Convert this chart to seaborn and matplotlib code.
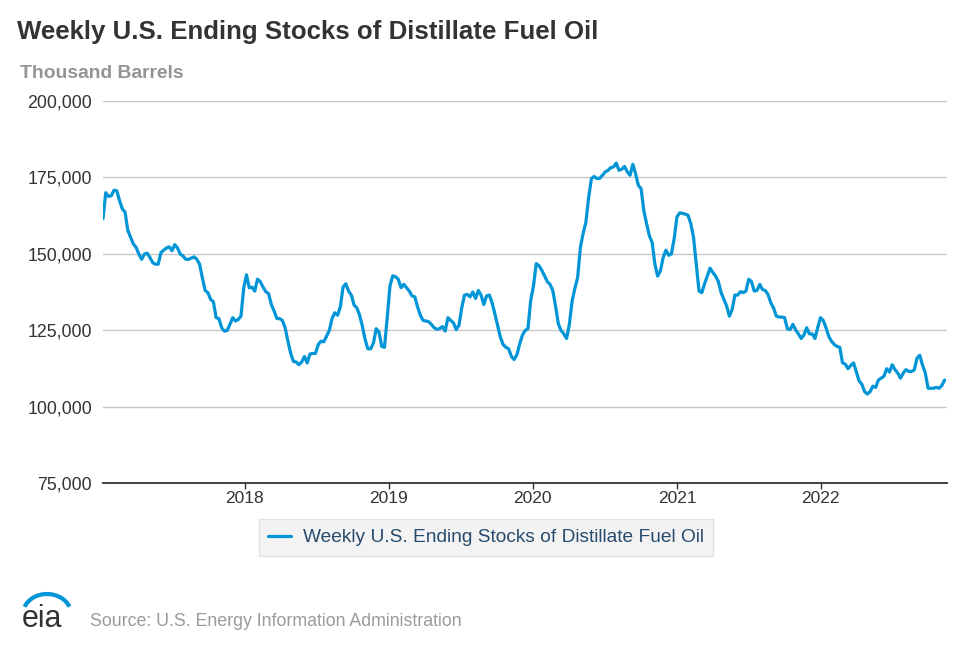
import pandas as pd
import seaborn as sns
import matplotlib.pyplot as plt
from matplotlib.ticker import FuncFormatter
from matplotlib.patches import Arc

# weekly ending stocks, million barrels, one list per year
stocks_2017 = [161.5, 170.0, 168.8, 169.0, 170.8, 170.6, 167.4, 164.7, 163.6, 157.6,
               155.4, 153.2, 152.1, 149.9, 148.2, 149.9, 150.2, 148.8, 147.1, 146.6,
               146.6, 150.4, 151.2, 151.9, 152.3, 151.0, 153.0, 151.9, 149.9, 149.3,
               148.2, 148.2, 148.6, 149.0, 148.2, 146.6, 142.2, 138.0, 137.3, 135.1,
               134.3, 129.1, 128.8, 125.8, 124.7, 124.9, 126.9, 129.1, 128.0, 128.5,
               129.6, 138.9]
stocks_2018 = [143.1, 138.9, 139.1, 137.8, 141.7, 140.9, 139.1, 137.6, 137.0, 133.4,
               131.3, 128.8, 128.8, 128.2, 125.8, 121.4, 117.5, 114.8, 114.6, 113.7,
               114.6, 116.4, 114.3, 117.2, 117.4, 117.4, 120.3, 121.4, 121.2, 123.0,
               124.9, 128.8, 130.7, 129.9, 132.6, 139.1, 140.2, 137.8, 136.5, 133.2,
               132.3, 129.9, 126.3, 121.9, 118.9, 118.9, 120.8, 125.5, 124.4, 119.7,
               119.4, 129.1]
stocks_2019 = [139.5, 142.8, 142.5, 141.7, 138.9, 140.0, 138.9, 137.8, 136.2, 135.9,
               132.6, 129.9, 128.2, 128.0, 127.8, 126.9, 125.8, 125.3, 125.5, 126.2,
               124.7, 129.1, 128.2, 127.4, 125.2, 126.6, 132.3, 136.5, 136.7, 135.9,
               137.5, 135.4, 138.0, 136.5, 133.4, 136.2, 136.5, 134.0, 130.4, 126.6,
               122.7, 120.3, 119.4, 118.9, 116.4, 115.4, 117.0, 120.5, 123.4, 124.9,
               125.5, 134.8]
stocks_2020 = [139.5, 146.8, 146.1, 144.6, 142.8, 140.9, 140.0, 138.0, 132.9, 127.1,
               124.9, 123.8, 122.3, 126.9, 134.5, 138.7, 142.2, 152.1, 156.7, 160.3,
               168.5, 174.6, 175.3, 174.6, 174.7, 175.7, 176.8, 177.3, 178.2, 178.4,
               179.7, 177.3, 177.7, 178.6, 176.8, 175.7, 179.3, 176.2, 172.4, 171.3,
               164.1, 159.8, 155.9, 153.7, 146.6, 142.7, 144.4, 148.8, 151.2, 149.5,
               150.0, 155.0]
stocks_2021 = [162.1, 163.4, 163.2, 163.0, 162.6, 159.9, 155.4, 146.6, 137.8, 137.3,
               140.2, 142.8, 145.3, 143.9, 142.7, 140.9, 137.3, 135.1, 132.9, 129.6,
               131.8, 136.5, 136.5, 137.6, 137.3, 137.8, 141.7, 140.9, 137.8, 138.0,
               140.0, 138.3, 138.0, 136.7, 134.0, 132.3, 129.6, 129.3, 129.3, 129.1,
               125.5, 125.2, 126.9, 125.1, 123.8, 122.3, 123.4, 125.8, 123.8, 123.8,
               122.3, 125.8, 129.1]
stocks_2022 = [128.2, 125.8, 123.0, 121.4, 120.3, 119.7, 119.4, 114.3, 113.9, 112.4,
               113.5, 114.3, 111.3, 108.4, 107.3, 104.9, 104.1, 104.9, 106.7, 106.3,
               108.7, 109.3, 109.9, 112.4, 111.3, 113.7, 112.1, 111.0, 109.3, 111.0,
               112.1, 111.5, 111.5, 112.0, 115.9, 116.8, 113.5, 111.0, 106.0, 106.0,
               106.0, 106.3, 106.0, 106.9, 108.7]

first_week = "2017-01-06"
year_ticks = ["2018-01-01", "2019-01-01", "2020-01-01", "2021-01-01", "2022-01-01"]
year_labels = ["2018", "2019", "2020", "2021", "2022"]
y_ticks = [75000, 100000, 125000, 150000, 175000, 200000]

series_name = "Weekly U.S. Ending Stocks of Distillate Fuel Oil"

values = stocks_2017 + stocks_2018 + stocks_2019 + stocks_2020 + stocks_2021 + stocks_2022
df = pd.DataFrame({
    "date": pd.date_range(first_week, periods=len(values), freq="W-FRI"),
    "stocks": [v * 1000 for v in values],
})

sns.set_theme(style="white")
plt.rcParams["font.family"] = ["Liberation Sans", "DejaVu Sans"]

blue = "#0095d6"
fig = plt.figure(figsize=(9.7, 6.47), dpi=100)
ax = fig.add_axes([103 / 970, 1 - 483 / 647, 844 / 970, 382 / 647])

sns.lineplot(data=df, x="date", y="stocks", ax=ax, color=blue, linewidth=2.3, label=series_name)

ax.set_ylim(75000, 200000)
ax.set_xlim(df["date"].iloc[0], df["date"].iloc[-1] + pd.Timedelta(days=6))
ax.set_yticks(y_ticks)
ax.yaxis.set_major_formatter(FuncFormatter(lambda v, p: f"{v:,.0f}"))
ax.set_xticks(pd.to_datetime(year_ticks))
ax.set_xticklabels(year_labels)
ax.grid(axis="y", color="#c8c8c8", linewidth=1)
ax.set_axisbelow(True)
ax.set(xlabel="", ylabel="")

for s in ["left", "right", "top"]:
    ax.spines[s].set_visible(False)
ax.spines["bottom"].set_color("#333333")
ax.spines["bottom"].set_linewidth(1.3)
ax.tick_params(axis="x", bottom=True, length=4, width=1, color="#333333",
               labelsize=12.5, labelcolor="#333333", pad=2)
ax.tick_params(axis="y", left=False, length=0, labelsize=12.8, labelcolor="#333333", pad=8)

ax.get_legend().remove()
handles, labels = ax.get_legend_handles_labels()
leg = fig.legend(handles, labels, loc="center", bbox_to_anchor=(486 / 970, 1 - 537.5 / 647),
                 frameon=True, fancybox=False, facecolor="#f0f0f0", edgecolor="#dddddd",
                 fontsize=13.8, handlelength=1.2, handletextpad=0.6, borderpad=0.5)
for t in leg.get_texts():
    t.set_color("#274b6d")
leg.get_frame().set_linewidth(1)

fig.text(17 / 970, 1 - 32 / 647, series_name, fontsize=18.6, fontweight="bold",
         color="#333333", va="center", ha="left")
fig.text(20 / 970, 1 - 74 / 647, "Thousand Barrels", fontsize=13.9, fontweight="bold",
         color="#949494", va="center", ha="left")
fig.text(90 / 970, 1 - 621 / 647, "Source: U.S. Energy Information Administration",
         fontsize=12.75, color="#9a9a9a", va="center", ha="left")

# eia logo, drawn in pixel coordinates of the lower-left corner
logo = fig.add_axes([0, 0, 100 / 970, 72 / 647])
logo.set_xlim(0, 100)
logo.set_ylim(647, 575)
logo.axis("off")
logo.text(22, 627, "eia", fontsize=22, fontweight="medium", color="#333333",
          ha="left", va="baseline")
logo.add_patch(Arc((47, 614), 48, 40, theta1=198, theta2=342, color=blue, linewidth=3))

fig.savefig("out.png", dpi=100)
